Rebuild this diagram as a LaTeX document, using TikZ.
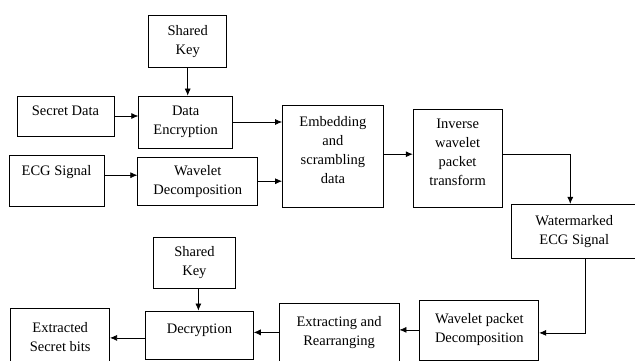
\documentclass[tikz,border=0pt]{standalone}
\usepackage{fontspec}
\setmainfont{Liberation Serif}
\usetikzlibrary{arrows.meta, positioning}

\begin{document}
\begin{tikzpicture}[x=1pt, y=-1pt, ->, >={Latex[length=7pt,width=6pt]}, line width=0.7pt,
        box/.style={draw, align=center, inner sep=2pt, font=\fontsize{14.5}{19}\selectfont}]
        \useasboundingbox (0,0) rectangle (635,361);

        % Embedding side
        \node[box, minimum width=97pt, minimum height=40pt, text depth=10pt] (secret) at (65.5,116) {Secret Data};
        \node[box, minimum width=94pt, minimum height=52pt, right=24pt of secret, yshift=-6pt] (encrypt) {Data\\Encryption};
        \node[box, minimum width=78pt, minimum height=52pt, above=28pt of encrypt, xshift=2pt] (key1) {Shared\\Key};
        \node[box, minimum width=95pt, minimum height=51pt, text depth=22pt, below=19pt of secret, xshift=-9pt] (ecg) {ECG Signal};
        \node[box, minimum width=120pt, minimum height=48pt, right=33pt of ecg] (wdec) {Wavelet\\Decomposition};
        \node[box, minimum width=101pt, minimum height=102pt, text depth=12pt, right=24pt of wdec, yshift=25pt] (embed) {Embedding\\and\\scrambling\\data};
        \node[box, minimum width=89pt, minimum height=98pt, text depth=12pt, right=29pt of embed, yshift=-2pt] (iwpt) {Inverse\\wavelet\\packet\\transform};
        \node[box, minimum width=125pt, minimum height=54pt, right=9pt of iwpt, yshift=-73pt] (water) {Watermarked\\ECG Signal};

        % Extraction side
        \node[box, minimum width=119pt, minimum height=60pt, below=41pt of water, xshift=-95pt] (wpd) {Wavelet packet\\Decomposition};
        \node[box, minimum width=120pt, minimum height=59pt, left=20pt of wpd, yshift=-2.5pt] (extract) {Extracting and\\Rearranging};
        \node[box, minimum width=108pt, minimum height=48pt, text depth=13pt, left=25pt of extract, yshift=-2.5pt] (decrypt) {Decryption};
        \node[box, minimum width=82pt, minimum height=51pt, above=22pt of decrypt, xshift=-5pt] (key2) {Shared\\Key};
        \node[box, minimum width=99pt, minimum height=58pt, left=35pt of decrypt, yshift=-2pt] (bits) {Extracted\\Secret bits};

        % Embedding arrows
        \draw (key1.south) -- (key1.south |- encrypt.north);
        \draw (secret.east) -- (secret.east -| encrypt.west);
        \draw ([yshift=6pt]ecg.east) -- ([yshift=6pt]ecg.east -| wdec.west);
        \draw (encrypt.east) -- (encrypt.east -| embed.west);
        \draw (wdec.east) -- (wdec.east -| embed.west);
        \draw ([yshift=2pt]embed.east) -- ([yshift=2pt]embed.east -| iwpt.west);
        \draw ([yshift=4pt]iwpt.east) -| ([xshift=-4pt]water.north);

        % Extraction arrows
        \draw ([xshift=11pt]water.south) |- ([yshift=-3pt]wpd.east);
        \draw (wpd.west) -- (wpd.west -| extract.east);
        \draw (extract.west) -- (extract.west -| decrypt.east);
        \draw ([xshift=4pt]key2.south) -- ([xshift=4pt]key2.south |- decrypt.north);
        \draw ([yshift=-3pt]decrypt.west) -- ([yshift=-3pt]decrypt.west -| bits.east);
    \end{tikzpicture}
\end{document}
